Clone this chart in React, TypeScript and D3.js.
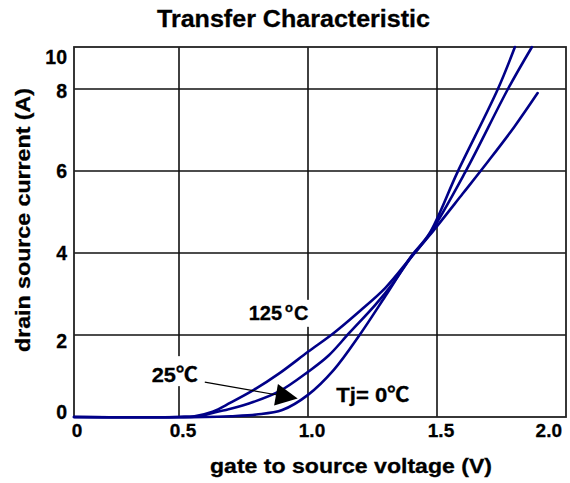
import React from "react";
import * as d3 from "d3";

// ---- data ----
const xTicks = [0, 0.5, 1.0, 1.5, 2.0];
const xTickLabels = ["0", "0.5", "1.0", "1.5", "2.0"];
const yTicks = [0, 2, 4, 6, 8, 10];
const yTickLabels = ["0", "2", "4", "6", "8", "10"];

const voltage125 = [0, 0.5, 0.56, 0.63, 0.7, 0.79, 0.89, 1.0, 1.1, 1.2, 1.3, 1.4, 1.47, 1.6, 1.7, 1.8, 1.89];
const current125 = [0, 0, 0.02, 0.13, 0.35, 0.66, 1.07, 1.59, 2.05, 2.58, 3.15, 3.9, 4.42, 5.45, 6.25, 7.08, 7.9];

const voltage25 = [0, 0.5, 0.58, 0.63, 0.7, 0.79, 0.89, 1.0, 1.08, 1.16, 1.26, 1.33, 1.4, 1.47, 1.61, 1.775, 1.868];
const current25 = [0, 0, 0.02, 0.1, 0.2, 0.37, 0.63, 1.1, 1.5, 2.05, 2.73, 3.27, 3.9, 4.45, 5.98, 8.0, 10];

const voltage0 = [0, 0.6, 0.7, 0.8, 0.9, 1.0, 1.1, 1.2, 1.3, 1.4, 1.47, 1.58, 1.736, 1.802];
const current0 = [0, 0, 0.02, 0.06, 0.17, 0.54, 1.15, 2.0, 2.95, 3.92, 4.47, 5.98, 8.0, 10];

const seriesNames = ["125°C", "25℃", "Tj= 0℃"];

const W = 570;
const H = 483;
const FONT = "'Liberation Sans', Arial, 'Noto Sans CJK SC', sans-serif";
const LINE = "#000088";

export default function App() {
  // the original axes are drawn with uneven spacing; piecewise-linear scales reproduce it
  const x = d3.scaleLinear().domain([0, 0.5, 2]).range([74, 179, 566]);
  const y = d3.scaleLinear().domain([0, 8, 10]).range([417, 89, 47]);

  const line = d3
    .line<[number, number]>()
    .x((d) => x(d[0]))
    .y((d) => y(d[1]))
    .curve(d3.curveCatmullRom.alpha(0.5));

  const series = [
    { v: voltage125, c: current125 },
    { v: voltage25, c: current25 },
    { v: voltage0, c: current0 },
  ];

  const yNudge = (v: number) => (v === 10 ? 10 : v === 2 ? 6 : v === 0 ? -5 : v === 8 ? 2 : 0);

  // arrow for 25°C label
  const tail: [number, number] = [x(0.6), y(0.85)];
  const tip: [number, number] = [x(0.96), y(0.45)];
  const ang = Math.atan2(tip[1] - tail[1], tip[0] - tail[0]);
  const hl = 22;
  const hw = 11;
  const bx = tip[0] - hl * Math.cos(ang);
  const by = tip[1] - hl * Math.sin(ang);
  const px = -Math.sin(ang) * hw;
  const py = Math.cos(ang) * hw;
  const head = `${tip[0]},${tip[1]} ${bx + px},${by + py} ${bx - px},${by - py}`;

  return (
    <svg width={W} height={H} style={{ position: "absolute", left: 0, top: 0, background: "#fff" }}>
      <rect x={0} y={0} width={W} height={H} fill="#fff" />
      {/* title */}
      <text
        x={293.5}
        y={27}
        textAnchor="middle"
        fontFamily={FONT}
        fontWeight="bold"
        fontSize={23.5}
        textLength={273}
        lengthAdjust="spacingAndGlyphs"
        fill="#000"
        stroke="#000"
        strokeWidth={0.3}
      >
        Transfer Characteristic
      </text>

      {/* grid */}
      {xTicks.slice(1, -1).map((t) => (
        <line key={"gx" + t} x1={x(t)} x2={x(t)} y1={y(10)} y2={y(0)} stroke="#111" strokeWidth={1.6} />
      ))}
      {yTicks.slice(1, -1).map((t) => (
        <line key={"gy" + t} x1={x(0)} x2={x(2)} y1={y(t)} y2={y(t)} stroke="#111" strokeWidth={1.6} />
      ))}
      <rect
        x={x(0)}
        y={y(10)}
        width={x(2) - x(0)}
        height={y(0) - y(10)}
        fill="none"
        stroke="#222"
        strokeWidth={1.8}
      />

      {/* label backgrounds (break the grid as in reference) */}
      <rect x={x(0.77) - 4} y={y(2.37) - 20} width={72} height={27} fill="#fff" />
      <rect x={x(0.37) - 3} y={y(0.85) - 26} width={52} height={30} fill="#fff" />

      {/* curves */}
      {series.map((s, i) => (
        <path
          key={seriesNames[i]}
          d={line(s.v.map((v, k) => [v, s.c[k]] as [number, number])) || ""}
          fill="none"
          stroke={LINE}
          strokeWidth={2.6}
          strokeLinejoin="round"
          strokeLinecap="round"
        />
      ))}

      {/* x tick labels */}
      {xTicks.map((t, i) => (
        <text
          key={"xt" + t}
          x={t === 2 ? x(t) - 4 : t === 0 ? x(t) + 3 : x(t) + 4}
          y={437}
          textAnchor={t === 2 ? "end" : "middle"}
          fontFamily={FONT}
          fontWeight="bold"
          fontSize={19}
          fill="#000"
          stroke="#000"
          strokeWidth={0.3}
        >
          {xTickLabels[i]}
        </text>
      ))}
      {/* y tick labels */}
      {yTicks.map((t, i) => (
        <text
          key={"yt" + t}
          x={67}
          y={y(t) + yNudge(t) + 7}
          textAnchor="end"
          fontFamily={FONT}
          fontWeight="bold"
          fontSize={19.5}
          fill="#000"
          stroke="#000"
          strokeWidth={0.3}
        >
          {yTickLabels[i]}
        </text>
      ))}

      {/* axis titles */}
      <text
        x={351}
        y={473}
        textAnchor="middle"
        fontFamily={FONT}
        fontWeight="bold"
        fontSize={19.5}
        textLength={282}
        lengthAdjust="spacingAndGlyphs"
        fill="#000"
        stroke="#000"
        strokeWidth={0.3}
      >
        gate to source voltage (V)
      </text>
      <text
        transform={`translate(30,220) rotate(-90)`}
        textAnchor="middle"
        fontFamily={FONT}
        fontWeight="bold"
        fontSize={19.5}
        textLength={264}
        lengthAdjust="spacingAndGlyphs"
        fill="#000"
        stroke="#000"
        strokeWidth={0.3}
      >
        drain source current (A)
      </text>

      {/* annotations */}
      <text
        x={x(0.77)}
        y={y(2.37)}
        fontFamily={FONT}
        fontWeight="bold"
        fontSize={20}
        fill="#000"
        stroke="#000"
        strokeWidth={0.3}
      >
        125
        <tspan fontSize={13} dy={-8} dx={3}>o</tspan>
        <tspan dy={8} dx={1}>C</tspan>
      </text>
      <text
        x={x(0.37)}
        y={y(0.85)}
        fontFamily={FONT}
        fontWeight="bold"
        fontSize={20}
        textLength={46}
        lengthAdjust="spacingAndGlyphs"
        fill="#000"
        stroke="#000"
        strokeWidth={0.3}
      >
        25℃
      </text>
      <text
        x={x(1.11)}
        y={y(0.37)}
        fontFamily={FONT}
        fontWeight="bold"
        fontSize={20}
        textLength={73}
        lengthAdjust="spacingAndGlyphs"
        fill="#000"
        stroke="#000"
        strokeWidth={0.3}
      >
        Tj= 0℃
      </text>
      <line x1={tail[0]} y1={tail[1]} x2={bx} y2={by} stroke="#000" strokeWidth={1.2} />
      <polygon points={head} fill="#000" />
    </svg>
  );
}
